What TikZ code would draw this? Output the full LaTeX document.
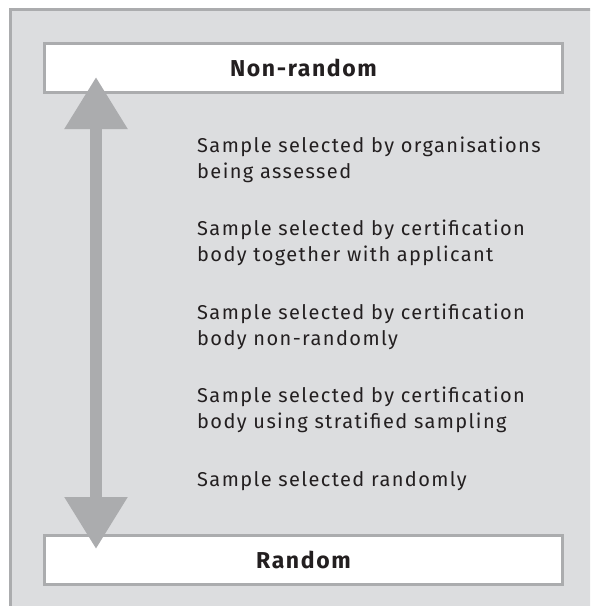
\documentclass[tikz,border=0pt]{standalone}
\usepackage{fontspec}
\setmainfont[LetterSpace=7]{Fira Sans}
\usetikzlibrary{arrows.meta}
\definecolor{panelgrey}{HTML}{DCDDDF}
\definecolor{linegrey}{HTML}{ABACAE}
\definecolor{inkdark}{HTML}{231F20}
\tikzset{
  endbox/.style={draw=linegrey, line width=3pt, fill=white, minimum width=518pt,
    minimum height=49pt, inner sep=0pt, text=inkdark,
    font=\fontsize{23}{26}\selectfont\bfseries},
  item/.style={anchor=base west, inner sep=0pt, align=left, text=inkdark,
    font=\fontsize{20}{26}\selectfont},
  scalearrow/.style={draw=linegrey, line width=12pt,
    {Triangle[width=60pt,length=52pt]}-{Triangle[width=60pt,length=52pt]}}
}
\begin{document}
\begin{tikzpicture}[x=1pt, y=-1pt]
  \useasboundingbox (0,0) rectangle (590,606);
  % background panel, running off the right and bottom edges
  \begin{scope}
    \clip (0,0) rectangle (590,606);
    \draw[draw=linegrey, line width=3pt, fill=panelgrey] (10.5,9.5) rectangle (620,640);
  \end{scope}
  % the two ends of the scale
  \node[endbox] (nonrandom) at (303.5,68) {Non-random};
  \node[endbox] (random) at (303.5,559.5) {Random};
  % double-headed scale arrow
  \coordinate (toptip) at (96,77);
  \coordinate (bottip) at (96,549);
  \draw[scalearrow] (toptip) -- (bottip);
  % sampling approaches (base anchor sits on the last line)
  \node[item] (s1) at (197,178) {Sample selected by organisations\\being assessed};
  \node[item] (s2) at (197,261.5) {Sample selected by certification\\body together with applicant};
  \node[item] (s3) at (197,345) {Sample selected by certification\\body non-randomly};
  \node[item] (s4) at (197,428.5) {Sample selected by certification\\body using stratified sampling};
  \node[item] (s5) at (197,486) {Sample selected randomly};
\end{tikzpicture}
\end{document}
